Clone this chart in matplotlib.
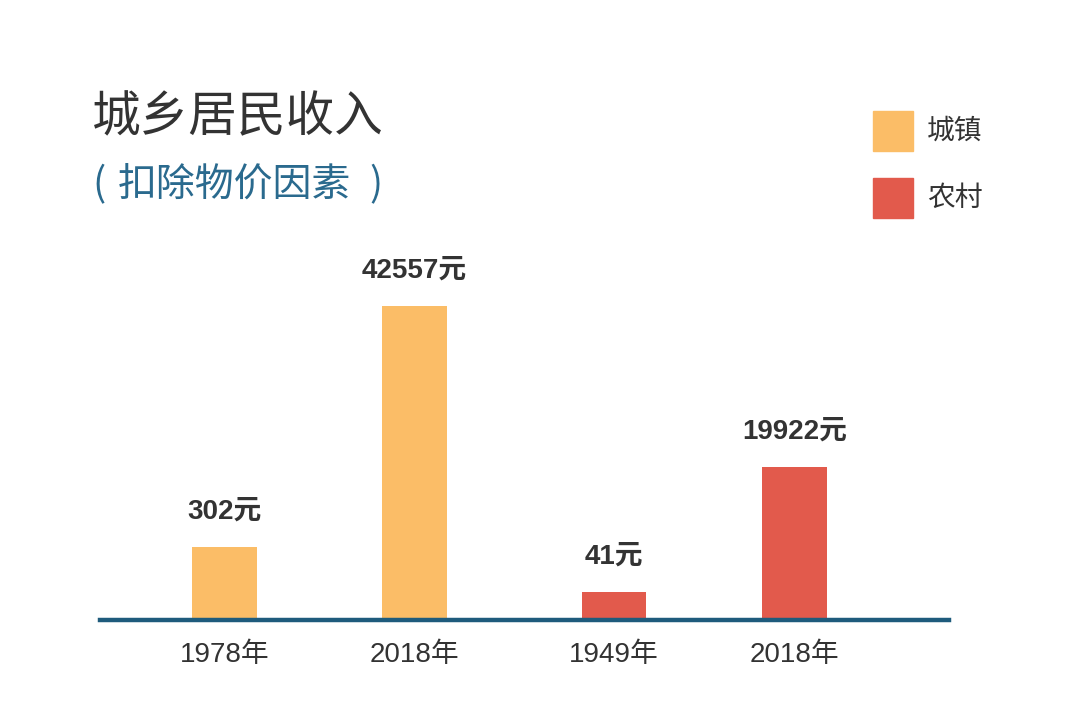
import matplotlib
matplotlib.use("Agg")
import matplotlib.pyplot as plt
from matplotlib.patches import Rectangle

plt.rcParams['font.family'] = ['Noto Sans CJK SC', 'DejaVu Sans']
NUM_FONT = ['Liberation Sans', 'Noto Sans CJK SC']

# ---- data ----
title = "城乡居民收入"
subtitle = "扣除物价因素"
series_names = ["城镇", "农村"]
categories = ["1978年", "2018年", "1949年", "2018年"]
series_of_bar = [0, 0, 1, 1]
values = [302, 42557, 41, 19922]
value_labels = ["302元", "42557元", "41元", "19922元"]
# the infographic does not draw bars to scale; relative drawn heights (tallest = 100)
drawn_heights = [23.2, 100, 9.0, 48.7]

# ---- style / layout ----
colors = ["#FBBD67", "#E25A4C"]
line_color = "#1E5B7C"
text_color = "#333333"
sub_color = "#2A6A8E"
positions = [0, 1, 2.05, 3.0]
bar_width = 0.342

W, H = 1080, 704
fig = plt.figure(figsize=(W / 100, H / 100), dpi=100)
fig.patch.set_facecolor("white")

base_y = 620
ax = fig.add_axes([100 / W, (H - base_y) / H, (949 - 100) / W, base_y / H])
ax.set_xlim(-0.655, 3.813)
ax.set_ylim(0, base_y / 314 * 100)
for s in ax.spines.values():
    s.set_visible(False)
ax.spines['bottom'].set_visible(True)
ax.spines['bottom'].set_color(line_color)
ax.spines['bottom'].set_linewidth(3.2)
ax.set_yticks([])
ax.tick_params(axis='x', length=0, pad=16)
ax.set_xticks(positions)
ax.set_xticklabels(categories, fontsize=20, color=text_color, family=NUM_FONT)
ax.set_facecolor("none")

for p, h, s, lab in zip(positions, drawn_heights, series_of_bar, value_labels):
    ax.bar(p, h, width=bar_width, color=colors[s], zorder=2)
    ax.annotate(lab, (p, h), xytext=(0, 16), textcoords="offset points",
                ha="center", va="bottom", fontsize=20, fontweight="bold",
                color=text_color, family=NUM_FONT)

fig.text(92 / W, 1 - 118 / H, title, fontsize=35, color=text_color,
         ha="left", va="center")
fig.text(92 / W, 1 - 185 / H, "(", fontsize=28, color=sub_color,
         ha="left", va="center")
fig.text(118 / W, 1 - 185 / H, subtitle, fontsize=28, color=sub_color,
         ha="left", va="center")
fig.text(383 / W, 1 - 185 / H, ")", fontsize=28, color=sub_color,
         ha="right", va="center")

leg_y = [131, 198]
for i, name in enumerate(series_names):
    y = leg_y[i]
    fig.patches.append(Rectangle((873 / W, 1 - (y + 20) / H), 40 / W, 40 / H,
                                 transform=fig.transFigure, color=colors[i]))
    fig.text(927 / W, 1 - y / H, name, fontsize=20, color=text_color,
             ha="left", va="center")

fig.savefig("out.png", dpi=100, facecolor="white")
